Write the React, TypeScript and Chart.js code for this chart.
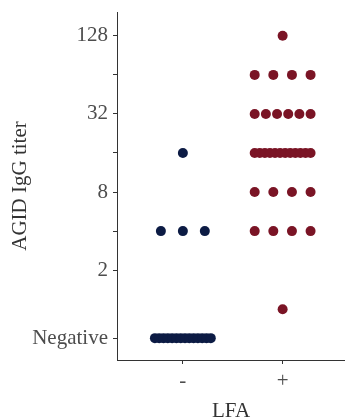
import React, { useEffect, useRef } from "react";
import { Chart, registerables } from "chart.js";

Chart.register(...registerables);

// ---- Data ----
const categories = ["-", "+"]; // LFA result
const titerLabels = ["Negative", "1", "2", "4", "8", "16", "32", "64", "128"];
// position of each titer on the log2 axis ("Negative" placed below 1)
const titerLog2 = [-0.74, 0, 1, 2, 3, 4, 5, 6, 7];
// number of samples at each titer, per LFA group
const negativeLFACounts = [14, 0, 0, 3, 0, 1, 0, 0, 0];
const positiveLFACounts = [0, 1, 0, 4, 4, 12, 6, 4, 1];
// horizontal half-spread of each dot row (category units)
const negativeLFASpread = [0.28, 0, 0, 0.22, 0, 0, 0, 0, 0];
const positiveLFASpread = [0, 0, 0, 0.28, 0.28, 0.28, 0.28, 0.28, 0];

// y-axis ticks
const yTickValues = [7, 6, 5, 4, 3, 2, 1, -0.74];
const yTickLabels = ["128", "", "32", "", "8", "", "2", "Negative"];

const NAVY = "#0c1b44";
const MAROON = "#7a1425";

function buildPoints(catIndex: number, counts: number[], spread: number[]) {
  const pts: { x: number; y: number }[] = [];
  counts.forEach((n, i) => {
    for (let k = 0; k < n; k++) {
      const off = n > 1 ? -spread[i] + (2 * spread[i] * k) / (n - 1) : 0;
      pts.push({ x: catIndex + 1 + off, y: titerLog2[i] });
    }
  });
  return pts;
}

export default function App() {
  const ref = useRef<HTMLCanvasElement | null>(null);

  useEffect(() => {
    document.body.style.margin = "0";
    const canvas = ref.current;
    if (!canvas) return;
    const font = "'Liberation Serif', 'Times New Roman', serif";
    const zeroPad = (s: any) => {
      s.paddingLeft = 0;
      s.paddingRight = 0;
      s.paddingTop = 0;
      s.paddingBottom = 0;
    };
    // extend the plot area to the right edge of the canvas
    const fullWidth = {
      id: "fullWidth",
      afterLayout(c: any) {
        const x = c.scales.x;
        const right = c.width;
        x.right = right;
        x.width = right - x.left;
        x.configure();
        c.chartArea.right = right;
        c.chartArea.width = right - c.chartArea.left;
      },
    };
    const chart = new Chart(canvas, {
      type: "scatter",
      plugins: [fullWidth],
      data: {
        datasets: [
          {
            label: categories[0],
            data: buildPoints(0, negativeLFACounts, negativeLFASpread),
            backgroundColor: NAVY,
            borderWidth: 0,
            pointRadius: 5,
          },
          {
            label: categories[1],
            data: buildPoints(1, positiveLFACounts, positiveLFASpread),
            backgroundColor: MAROON,
            borderWidth: 0,
            pointRadius: 5,
          },
        ],
      },
      options: {
        responsive: false,
        animation: false,
        devicePixelRatio: 1,
        layout: { padding: { top: 12, right: 0, bottom: 0, left: 0 } },
        plugins: { legend: { display: false }, tooltip: { enabled: false } },
        scales: {
          x: {
            type: "linear",
            min: 0.34,
            max: 2.625,
            afterBuildTicks: (s: any) => {
              s.ticks = [{ value: 1 }, { value: 2 }];
            },
            afterFit: (s: any) => {
              s.height = 60;
              zeroPad(s);
            },
            ticks: {
              callback: (v: any) => categories[Math.round(Number(v)) - 1] ?? "",
              color: "#4d4d4d",
              font: { family: font, size: 21 },
              padding: 5,
              maxRotation: 0,
              autoSkip: false,
            },
            grid: {
              drawOnChartArea: false,
              drawTicks: true,
              tickLength: 4,
              color: "#333333",
            },
            border: { display: true, color: "#333333", width: 1 },
            title: {
              display: true,
              text: "LFA",
              color: "#333333",
              font: { family: font, size: 21, lineHeight: 1 },
              padding: { top: 0, bottom: -2 },
            },
          },
          y: {
            type: "linear",
            min: -1.3,
            max: 7.61,
            afterBuildTicks: (s: any) => {
              s.ticks = yTickValues.map((v) => ({ value: v }));
            },
            afterFit: (s: any) => {
              s.width = 117;
              zeroPad(s);
            },
            ticks: {
              callback: (v: any) => {
                const i = yTickValues.findIndex((t) => Math.abs(t - Number(v)) < 1e-6);
                return i >= 0 ? yTickLabels[i] : "";
              },
              color: "#4d4d4d",
              font: { family: font, size: 21 },
              padding: 5,
              autoSkip: false,
            },
            grid: {
              drawOnChartArea: false,
              drawTicks: true,
              tickLength: 4,
              color: "#333333",
            },
            border: { display: true, color: "#333333", width: 1 },
            title: {
              display: true,
              text: "AGID IgG titer",
              color: "#333333",
              font: { family: font, size: 21, lineHeight: 1 },
              padding: { top: 10, bottom: 0 },
            },
          },
        },
      },
    });
    return () => chart.destroy();
  }, []);

  return (
    <canvas
      ref={ref}
      width={345}
      height={420}
      style={{ display: "block", width: 345, height: 420 }}
    />
  );
}
